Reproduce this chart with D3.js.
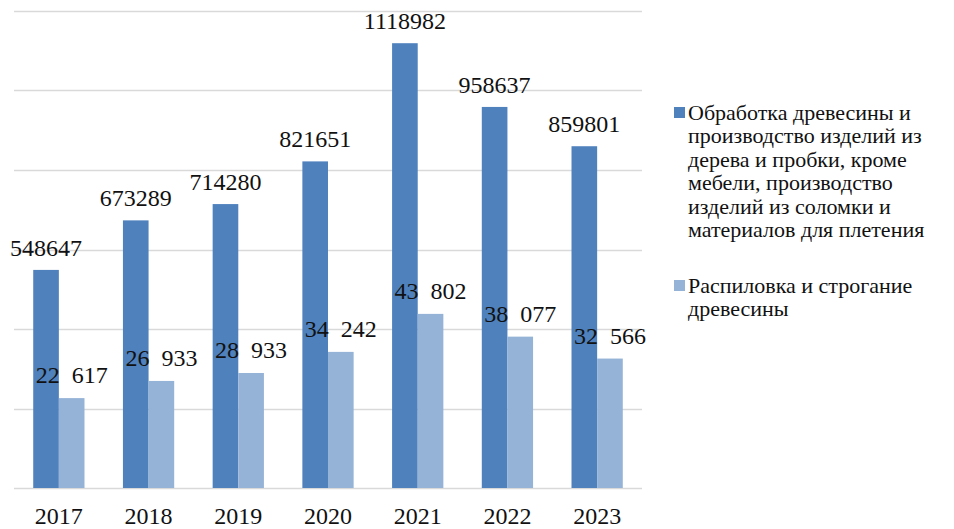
<!DOCTYPE html>
<html>
<head>
<meta charset="utf-8">
<script src="https://cdn.jsdelivr.net/npm/d3@7"></script>
<style>
  html, body { margin: 0; padding: 0; background: #fff; }
  svg { display: block; }
  #chart text { font-family: 'Liberation Serif', 'Times New Roman', Tinos, FreeSerif; }
</style>
</head>
<body>
<svg id="chart" width="954" height="529"></svg>
<script>
// ---- data ----
const years = ["2017", "2018", "2019", "2020", "2021", "2022", "2023"];
const woodProducts = [548647, 673289, 714280, 821651, 1118982, 958637, 859801];
const sawing = [22617, 26933, 28933, 34242, 43802, 38077, 32566];
const seriesNames = [
  "Обработка древесины и производство изделий из дерева и пробки, кроме мебели, производство изделий из соломки и материалов для плетения",
  "Распиловка и строгание древесины"
];
const legendLines = [
  ["Обработка древесины и", "производство изделий из", "дерева и пробки, кроме", "мебели, производство", "изделий из соломки и", "материалов для плетения"],
  ["Распиловка и строгание", "древесины"]
];
const primaryDomain = [0, 1200000];
const secondaryDomain = [0, 120000];
const gridTicks = [0, 200000, 400000, 600000, 800000, 1000000, 1200000];

function draw() {
  const FONT = "'Liberation Serif', 'Times New Roman', Tinos, FreeSerif, monospace";
  const colors = ["#4f81bd", "#95b3d7"];
  const svg = d3.select("#chart");
  svg.selectAll("*").remove();
  const plot = { left: 14, right: 642, top: 11, bottom: 488 };

  const x = d3.scaleBand().domain(years).range([plot.left, plot.right]).paddingInner(0).paddingOuter(0);
  const bw = x.bandwidth() / 3.5;   // Excel gap width 150%
  const y1 = d3.scaleLinear().domain(primaryDomain).range([plot.bottom, plot.top]);
  const y2 = d3.scaleLinear().domain(secondaryDomain).range([plot.bottom, plot.top]);

  svg.append("g").selectAll("line").data(gridTicks).join("line")
    .attr("x1", plot.left).attr("x2", plot.right)
    .attr("y1", d => Math.round(y1(d)) + 0.5).attr("y2", d => Math.round(y1(d)) + 0.5)
    .attr("stroke", "#d9d9d9").attr("stroke-width", 1.3);

  const rows = years.map((yr, i) => ({ yr, a: woodProducts[i], b: sawing[i] }));

  svg.append("g").selectAll("rect").data(rows).join("rect")
    .attr("x", d => x(d.yr) + x.bandwidth() / 2 - bw)
    .attr("width", bw)
    .attr("y", d => y1(d.a))
    .attr("height", d => plot.bottom - y1(d.a))
    .attr("fill", colors[0]);

  svg.append("g").selectAll("rect").data(rows).join("rect")
    .attr("x", d => x(d.yr) + x.bandwidth() / 2)
    .attr("width", bw)
    .attr("y", d => y2(d.b))
    .attr("height", d => plot.bottom - y2(d.b))
    .attr("fill", colors[1]);

  const fmtB = v => d3.format(",")(v).replace(/,/g, "\u00a0\u00a0");
  svg.append("g").selectAll("text").data(rows).join("text")
    .attr("x", d => x(d.yr) + x.bandwidth() / 2 - bw / 2)
    .attr("y", d => y1(d.a) - 14)
    .attr("text-anchor", "middle")
    .attr("font-family", FONT).style("font-family", FONT)
    .attr("font-size", 24)
    .attr("fill", "#111")
    .text(d => String(d.a));

  svg.append("g").selectAll("text").data(rows).join("text")
    .attr("x", d => x(d.yr) + x.bandwidth() / 2 + bw / 2)
    .attr("y", d => y2(d.b) - 15)
    .attr("text-anchor", "middle")
    .attr("font-family", FONT).style("font-family", FONT)
    .attr("font-size", 24)
    .attr("fill", "#111")
    .text(d => fmtB(d.b));

  const xAxis = d3.axisBottom(x).tickSize(0).tickPadding(0);
  const gx = svg.append("g").attr("transform", `translate(0,${plot.bottom})`).call(xAxis);
  gx.attr("font-family", FONT).attr("font-size", 24);
  gx.select(".domain").remove();
  gx.selectAll("text")
    .attr("font-family", FONT).style("font-family", FONT)
    .attr("font-size", 24)
    .attr("fill", "#111")
    .attr("dy", null)
    .attr("y", 36);

  const legend = svg.append("g");
  const legendStart = [113, 286];
  const lineH = 23.4;
  legendLines.forEach((lines, i) => {
    const cy = legendStart[i];
    legend.append("rect")
      .attr("x", 674).attr("y", cy - 6).attr("width", 11).attr("height", 11)
      .attr("fill", colors[i]);
    const t = legend.append("text")
      .attr("font-family", FONT).style("font-family", FONT)
      .attr("font-size", 22)
      .attr("fill", "#111");
    lines.forEach((ln, j) => {
      t.append("tspan").attr("x", 688).attr("y", cy + 7 + j * lineH).text(ln);
    });
  });
}

draw();
if (document.fonts && document.fonts.ready) document.fonts.ready.then(draw);
</script>
</body>
</html>
